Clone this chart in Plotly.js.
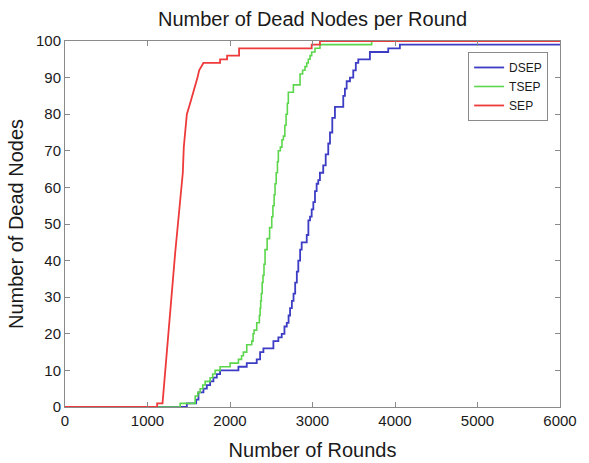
<!DOCTYPE html>
<html>
<head>
<meta charset="utf-8">
<script src="https://cdn.plot.ly/plotly-3.0.1.min.js"></script>
<style>html,body{margin:0;padding:0;background:#fff;}#chart{width:589px;height:463px;}</style>
</head>
<body>
<div id="chart"></div>
<script>
// Rounds (x) and number of dead nodes (y) (step curves)
const dsepRounds = [0,1477,1590,1618,1678,1719,1759,1799,1840,1880,2102,2203,2324,2365,2405,2526,2586,2627,2660,2688,2710,2728,2750,2770,2790,2810,2828,2850,2869,2930,2950,2970,2990,3010,3030,3050,3070,3090,3130,3160,3191,3212,3240,3272,3373,3393,3414,3454,3494,3525,3555,3696,3918,4059,6000];
const dsepDead   = [0,1,2,4,5,6,7,8,9,10,11,12,13,15,16,18,19,20,22,23,25,27,29,31,34,37,40,43,45,47,51,52,54,56,59,61,62,64,66,69,72,75,79,82,85,87,89,90,92,94,95,97,98,99,99];

const tsepRounds = [0,1396,1578,1610,1638,1670,1699,1759,1790,1820,1880,2001,2102,2140,2162,2203,2264,2280,2292,2324,2356,2365,2372,2380,2390,2400,2412,2425,2450,2480,2506,2520,2535,2546,2560,2575,2586,2610,2630,2647,2665,2680,2695,2707,2768,2849,2880,2909,2930,2949,2970,2990,3030,3091,3717,6000];
const tsepDead   = [0,1,3,4,5,6,7,8,9,10,11,12,13,14,15,17,18,20,21,23,25,27,29,31,34,36,39,43,46,49,52,55,58,61,64,67,70,71,73,74,77,80,83,86,88,91,92,93,94,95,96,97,98,99,100,100];

// SEP: corner points of the curve (vertical steps shown as repeated rounds)
const sepRounds = [0,1117,1117,1182,1335,1428,1440,1477,1517,1557,1606,1626,1678,1880,1880,1965,1965,2110,2110,2990,2990,3090,3090,6000];
const sepDead   = [0,0,1,1,42,64,71,80,83,86,90,92,94,94,95,95,96,96,98,98,99,99,100,100];

const seriesNames = ['DSEP','TSEP','SEP'];
const xTicks = [0,1000,2000,3000,4000,5000,6000];
const yTicks = [0,10,20,30,40,50,60,70,80,90,100];

const FONT = 'Liberation Sans, Arial, Helvetica, sans-serif';

const traces = [
  {x: dsepRounds, y: dsepDead, name: seriesNames[0], type:'scatter', mode:'lines',
   line:{color:'#3c3cc4', width:1.8, shape:'hv'}},
  {x: tsepRounds, y: tsepDead, name: seriesNames[1], type:'scatter', mode:'lines',
   line:{color:'#5cd64c', width:1.6, shape:'hv'}},
  {x: sepRounds, y: sepDead, name: seriesNames[2], type:'scatter', mode:'lines',
   line:{color:'#ee3a3a', width:1.8, shape:'linear'}}
];

const axisCommon = {
  showgrid:false, zeroline:false, showline:true, linecolor:'#8a8a8a', linewidth:1,
  mirror:'ticks', ticks:'inside', ticklen:5, tickcolor:'#8a8a8a', tickwidth:1,
  tickfont:{family:FONT, size:15, color:'#1a1a1a'}
};

const layout = {
  width:589, height:463,
  margin:{l:65, r:29, t:41, b:56},
  paper_bgcolor:'#ffffff', plot_bgcolor:'#ffffff',
  font:{family:FONT, color:'#1a1a1a'},
  title:{text:'Number of Dead Nodes per Round', font:{family:FONT, size:20, color:'#1a1a1a'},
         xref:'paper', x:0.5, xanchor:'center', yref:'container', y:0.959, yanchor:'middle'},
  xaxis: Object.assign({}, axisCommon, {
    range:[0,6000], tickvals:xTicks, ticktext:xTicks.map(String),
    title:{text:'Number of Rounds', font:{family:FONT, size:20, color:'#1a1a1a'}, standoff:14}
  }),
  yaxis: Object.assign({}, axisCommon, {
    range:[0,100], tickvals:yTicks, ticktext:yTicks.map(String),
    title:{text:'Number of Dead Nodes', font:{family:FONT, size:20, color:'#1a1a1a'}, standoff:6}
  }),
  legend:{x:0.976, xanchor:'right', y:0.97, yanchor:'top', bgcolor:'#ffffff',
          bordercolor:'#8a8a8a', borderwidth:1, font:{family:FONT, size:12, color:'#1a1a1a'},
          itemwidth:30, tracegroupgap:0},
  showlegend:true
};

Plotly.newPlot('chart', traces, layout, {displayModeBar:false, staticPlot:true});
</script>
</body>
</html>
